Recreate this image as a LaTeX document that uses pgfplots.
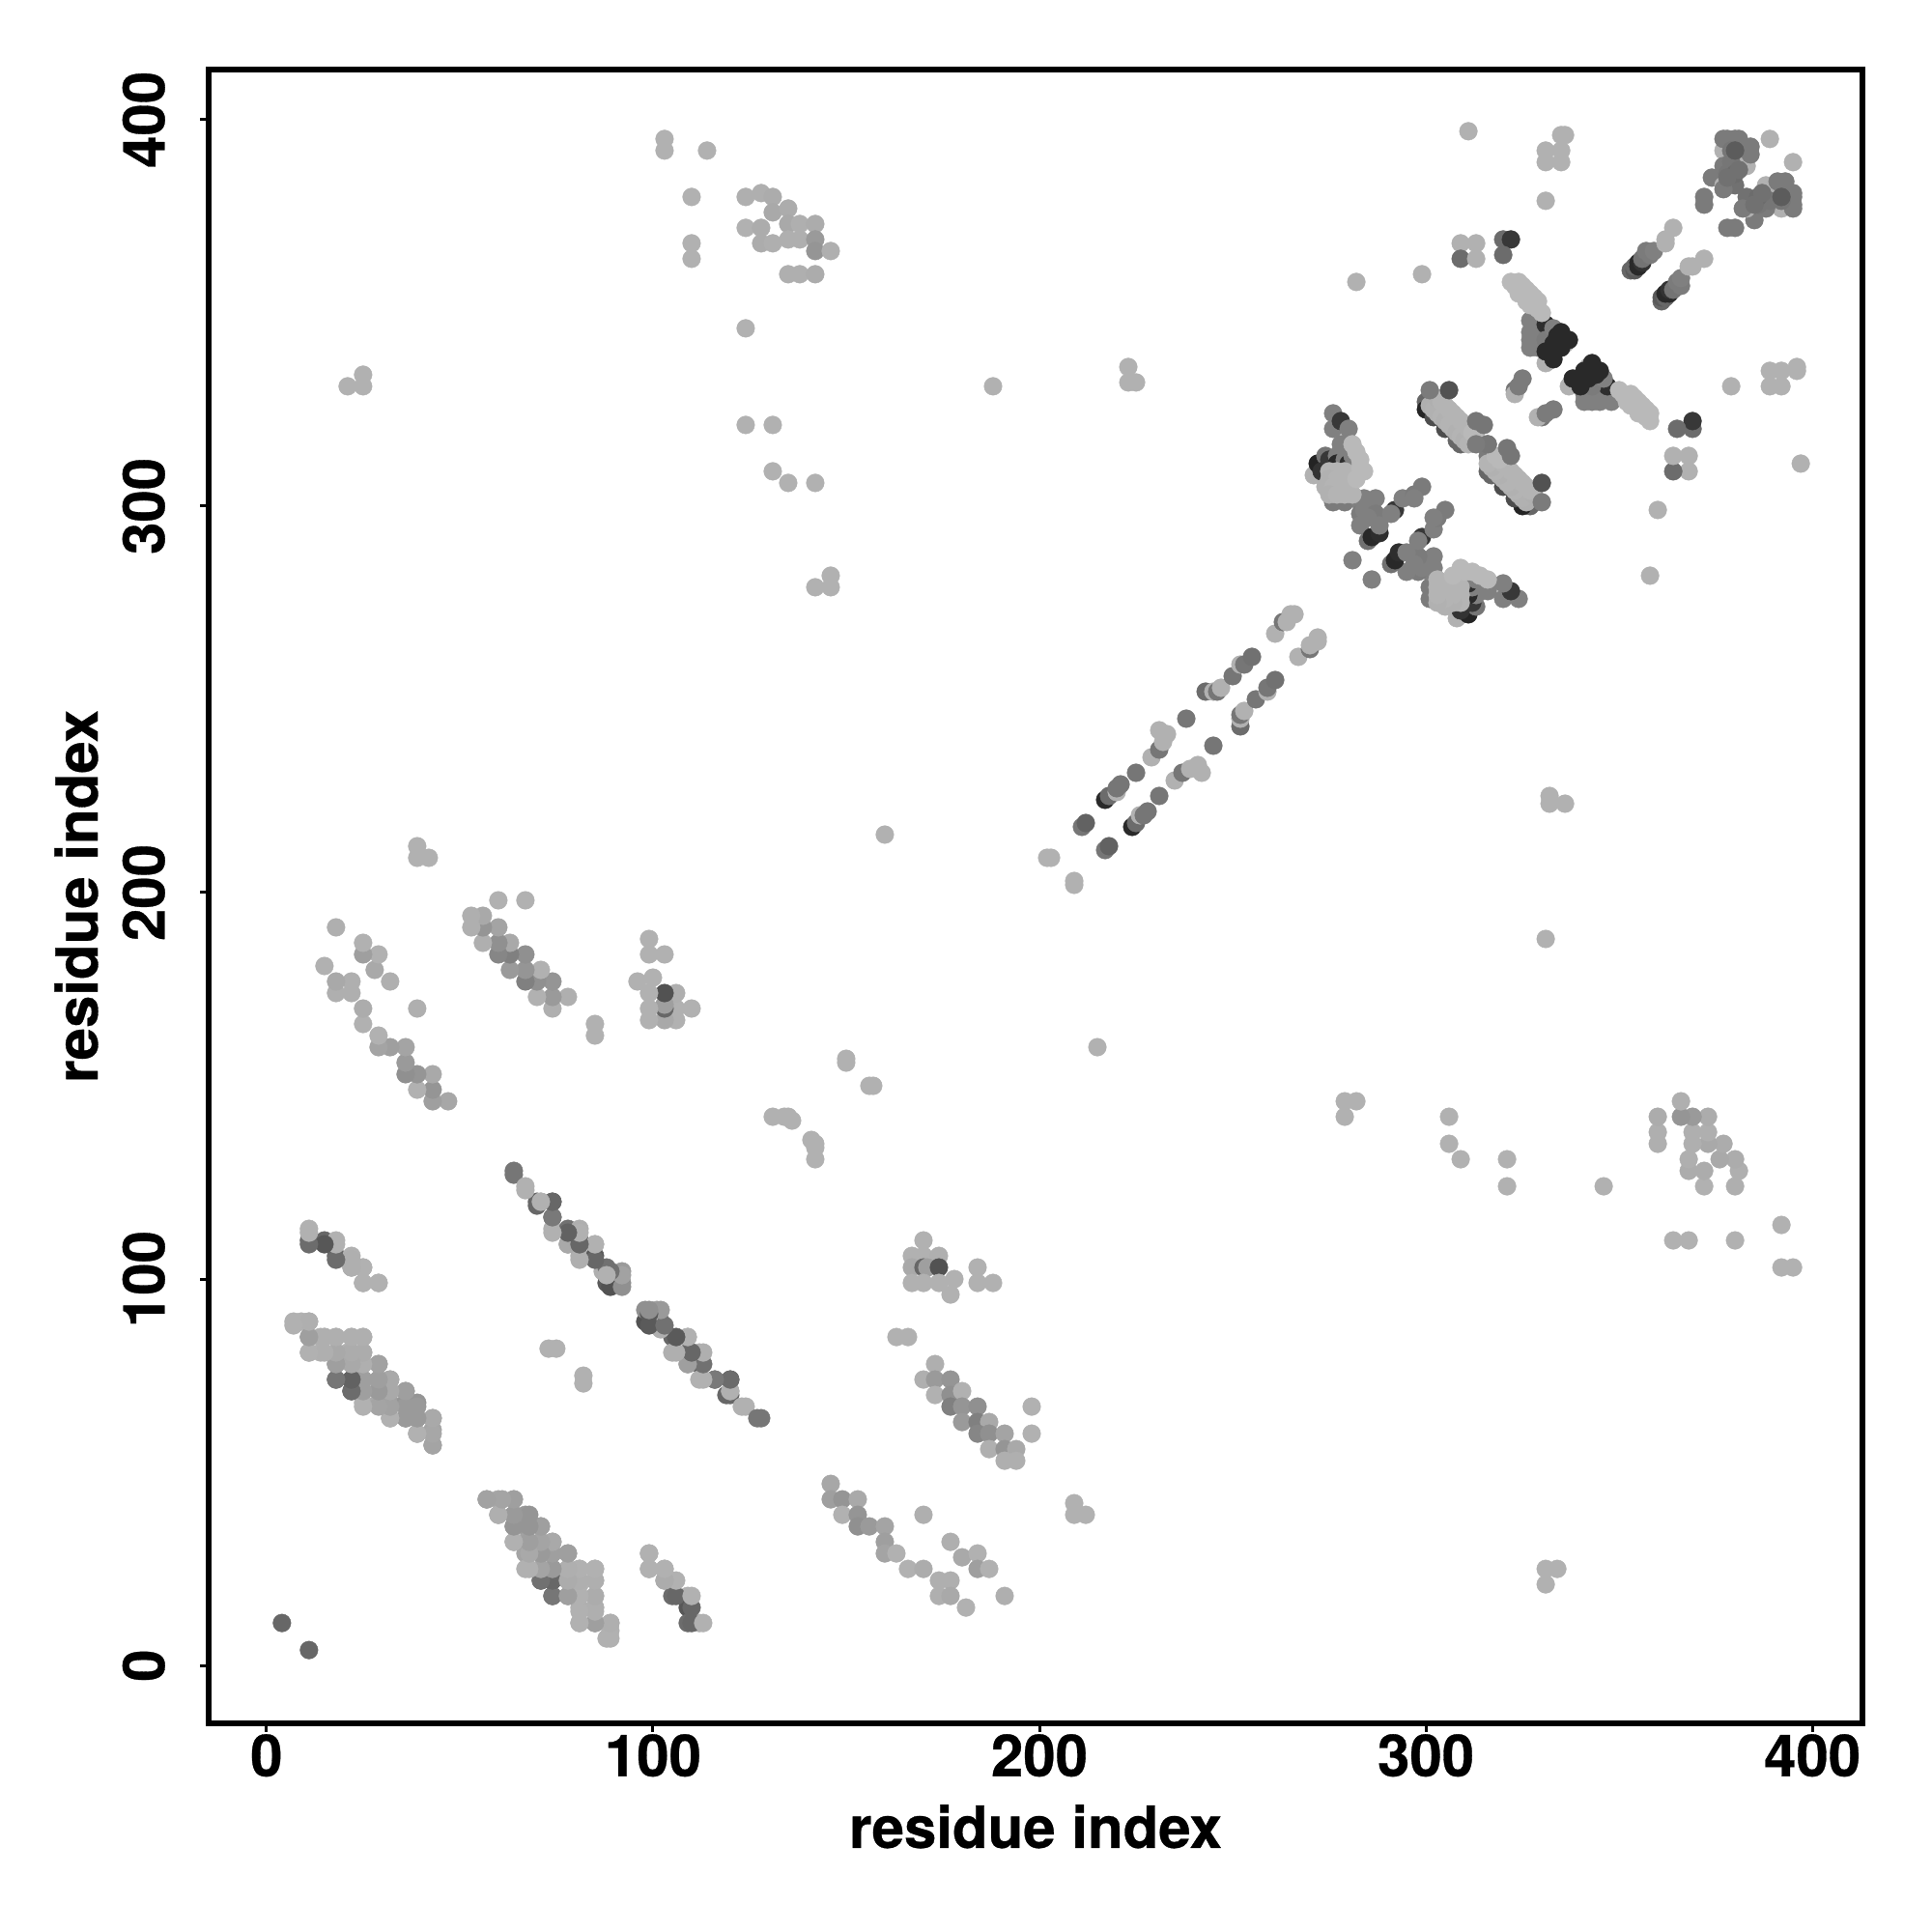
\documentclass[border=0pt]{standalone}
\usepackage{fontspec}
\setmainfont{TeX Gyre Heros}[BoldFeatures={FakeBold=0.5}]
\usepackage{graphicx}
\usepackage{pgfplots}
\usepackage{pgfplotstable}
\pgfplotsset{compat=1.18}

% contact pairs: i j gray; the map is symmetric, so each pair is plotted both ways
\pgfplotstableread{
i j g
4 11 .40
11 110 .40
15 110 .40
18 106 .40
11 113 .69
18 110 .69
22 106 .69
22 103 .67
25 103 .69
25 99 .69
29 99 .69
7 89 .69
9 89 .69
11 89 .68
11 85 .62
14 85 .68
15 85 .68
18 85 .67
22 85 .68
25 85 .69
11 81 .69
14 81 .69
18 81 .69
21 81 .69
22 81 .68
25 81 .69
18 74 .46
22 74 .40
22 71 .44
18 78 .62
22 78 .67
25 78 .68
29 78 .62
25 74 .60
29 74 .62
32 74 .66
25 71 .64
29 71 .60
32 71 .64
36 71 .62
25 68 .69
29 68 .66
32 68 .62
36 68 .58
39 68 .58
32 64 .69
36 64 .58
39 64 .60
43 64 .62
39 60 .68
43 61 .64
43 57 .63
57 43 .64
60 43 .65
64 43 .66
60 39 .69
64 39 .60
67 39 .60
64 36 .60
67 36 .60
71 36 .62
64 32 .69
67 32 .63
71 32 .66
74 32 .66
67 29 .64
71 29 .60
74 29 .62
78 29 .63
67 25 .69
71 25 .62
74 25 .62
71 22 .42
74 22 .38
74 18 .46
78 25 .68
81 25 .67
85 25 .68
78 22 .66
81 22 .67
85 22 .68
78 18 .62
81 18 .66
85 18 .68
81 15 .68
85 15 .68
81 11 .69
85 11 .62
89 11 .68
88 7 .69
70 120 .40
64 127 .46
67 123 .69
71 120 .69
74 120 .42
74 116 .47
74 113 .69
78 113 .44
81 113 .68
78 109 .62
81 110 .40
85 109 .69
81 106 .68
85 106 .35
87 102 .68
88 99 .35
88 103 .44
92 102 .60
91 99 .35
92 99 .56
98 89 .32
98 92 .56
101 92 .63
102 89 .44
101 88 .69
105 85 .40
109 85 .69
105 81 .68
109 78 .66
109 81 .40
112 81 .69
112 78 .38
112 74 .69
116 74 .47
120 74 .40
119 70 .40
120 71 .69
124 67 .69
128 64 .46
73 82 .69
75 82 .69
99 29 .69
99 25 .69
103 25 .69
103 22 .68
105 22 .68
105 18 .42
109 18 .69
109 15 .34
109 11 .42
112 11 .69
170 110 .69
167 106 .69
170 106 .69
174 106 .68
167 103 .66
170 103 .40
171 103 .62
174 103 .32
167 99 .69
170 99 .69
174 99 .69
178 100 .69
177 96 .69
184 103 .69
184 99 .69
188 99 .69
163 85 .69
166 85 .69
173 78 .68
170 74 .68
173 74 .60
177 74 .58
173 70 .69
177 70 .56
177 67 .50
180 71 .69
180 67 .58
184 67 .56
180 63 .60
184 63 .50
187 63 .66
184 60 .52
187 60 .56
191 60 .64
187 56 .68
191 56 .58
194 56 .66
191 53 .68
194 53 .68
198 67 .69
198 60 .69
146 47 .65
146 43 .62
149 43 .58
153 43 .66
149 39 .69
153 39 .58
153 36 .56
156 36 .60
160 36 .64
160 32 .62
160 29 .64
163 29 .69
166 25 .69
170 25 .67
174 22 .68
177 22 .68
174 18 .68
177 18 .66
181 15 .69
170 39 .68
177 32 .68
180 28 .66
184 29 .69
184 25 .62
187 25 .69
191 18 .68
209 42 .69
209 39 .69
212 39 .69
21 331 .69
25 334 .69
25 331 .69
103 395 .69
103 392 .69
114 392 .69
110 380 .69
110 368 .69
110 364 .69
124 380 .68
128 381 .68
131 380 .67
131 376 .66
135 377 .67
135 373 .66
138 373 .68
142 373 .67
124 372 .69
128 372 .67
128 368 .67
131 368 .68
135 369 .68
138 369 .68
142 369 .60
142 366 .58
146 366 .68
135 360 .68
138 360 .68
142 360 .67
124 346 .69
124 321 .69
131 321 .69
131 309 .69
135 306 .69
142 306 .69
142 279 .69
146 279 .69
146 282 .69
188 331 .69
223 336 .69
223 332 .69
225 332 .69
160 215 .69
150 157 .69
150 156 .69
131 142 .69
135 142 .69
136 141 .69
134 142 .69
282 358 .69
299 360 .69
311 397 .69
331 379 .69
331 392 .69
331 389 .69
335 396 .69
336 396 .69
335 392 .69
335 389 .69
309 368 .69
309 364 .42
313 368 .69
313 364 .69
320 369 .42
322 369 .22
320 365 .42
202 209 .69
203 209 .69
211 217 .46
212 218 .38
217 224 .16
218 225 .42
220 226 .69
220 227 .46
221 228 .46
225 231 .46
229 235 .69
231 237 .46
232 239 .69
233 241 .69
231 242 .69
238 245 .46
243 252 .42
245 252 .69
246 252 .46
247 253 .69
250 256 .46
252 259 .69
253 259 .46
255 261 .44
261 267 .69
263 270 .46
264 270 .69
265 272 .69
266 272 .69
276 324 .50
276 320 .50
278 322 .22
280 320 .50
278 316 .50
271 308 .69
272 311 .14
274 313 .46
273 309 .20
275 312 .22
277 313 .50
277 311 .16
279 312 .50
280 311 .18
281 313 .50
276 301 .48
279 301 .48
283 301 .50
283 298 .48
284 302 .50
286 300 .50
284 299 .50
287 302 .50
287 298 .48
285 297 .50
283 295 .50
285 291 .44
286 292 .16
288 293 .18
288 295 .50
275 309 .70
277 309 .70
279 309 .70
275 307 .69
277 307 .70
279 307 .70
281 307 .70
274 305 .69
276 305 .70
278 305 .70
280 305 .70
275 303 .69
277 303 .70
279 303 .70
281 303 .70
281 316 .72
282 314 .72
283 312 .72
283 310 .72
284 309 .72
282 307 .72
281 286 .50
292 299 .22
291 298 .50
294 302 .50
297 303 .48
299 305 .48
297 302 .50
300 327 .40
300 325 .14
302 323 .30
305 320 .30
308 317 .40
309 316 .40
301 326 .68
302 325 .69
303 324 .69
304 323 .70
305 322 .69
306 321 .70
307 320 .70
308 319 .69
309 318 .70
310 317 .69
311 316 .70
303 328 .68
304 327 .70
305 326 .70
306 325 .70
307 324 .70
308 323 .70
309 322 .70
310 321 .70
311 320 .70
312 319 .72
313 318 .72
301 330 .48
306 330 .32
313 322 .46
315 321 .46
316 316 .46
316 313 .48
323 330 .46
323 329 .69
324 331 .48
325 333 .48
327 348 .50
327 345 .50
327 343 .50
327 341 .50
329 347 .50
329 344 .50
329 341 .50
331 337 .69
333 339 .69
335 341 .72
336 342 .70
331 347 .18
331 343 .48
333 346 .50
335 345 .16
331 340 .16
333 342 .16
334 344 .16
333 338 .16
335 341 .16
337 343 .16
322 358 .72
324 358 .72
323 357 .72
325 357 .72
326 356 .72
327 355 .72
328 354 .72
324 355 .72
326 353 .72
329 353 .72
327 352 .72
329 351 .72
330 350 .72
353 361 .40
354 361 .35
354 362 .40
355 362 .16
355 363 .16
356 363 .20
356 364 .45
357 366 .48
358 365 .48
359 366 .50
362 368 .69
362 369 .69
364 372 .69
374 385 .48
372 380 .48
372 378 .48
377 392 .69
381 389 .69
377 383 .69
383 388 .69
377 395 .48
378 395 .48
380 395 .48
381 395 .48
379 392 .46
384 391 .48
384 393 .48
377 388 .48
379 389 .46
380 392 .36
378 386 .46
379 384 .46
380 383 .44
377 382 .48
380 386 .42
381 387 .44
378 385 .44
389 395 .69
}\contacts

\begin{document}
\begin{tikzpicture}
\useasboundingbox (0,0) rectangle (20cm,20cm);
\begin{axis}[
    at={(2.165cm,2.165cm)},
    anchor=south west,
    scale only axis,
    width=17.11cm,
    height=17.11cm,
    xmin=-14.84, xmax=412.84,
    ymin=-14.84, ymax=412.84,
    xtick={0,100,200,300,400},
    ytick={0,100,200,300,400},
    xtick pos=lower,
    ytick pos=left,
    tick align=outside,
    major tick length=0.9mm,
    tick style={black, line width=0.3mm},
    axis line style={line width=0.6mm},
    /pgf/number format/assume math mode=true,
    tick label style={font=\fontsize{17.07}{20}\selectfont\bfseries},
    label style={font=\fontsize{17.07}{20}\selectfont\bfseries},
    xticklabel style={anchor=north, inner sep=0pt, yshift=-0.2mm},
    yticklabel={\rotatebox{90}{\pgfmathprintnumber{\tick}}},
    yticklabel style={inner sep=0pt, xshift=-3.6mm},
    xlabel={residue index},
    ylabel={residue index},
    xlabel style={at={(axis description cs:0.5,-0.0627)}, anchor=center},
    ylabel style={at={(axis description cs:-0.0804,0.5)}, anchor=center},
    colormap={bw}{gray(0cm)=(0); gray(1cm)=(1)},
    point meta=explicit,
    point meta min=0,
    point meta max=1,
    scatter/use mapped color={draw=mapped color, fill=mapped color},
]
\addplot[scatter, only marks, mark=*, mark size=2.65pt, mark options={line width=0.1pt}] table[x=i, y=j, meta=g] \contacts;
\addplot[scatter, only marks, mark=*, mark size=2.65pt, mark options={line width=0.1pt}] table[x=j, y=i, meta=g] \contacts;
\end{axis}
\end{tikzpicture}
\end{document}
